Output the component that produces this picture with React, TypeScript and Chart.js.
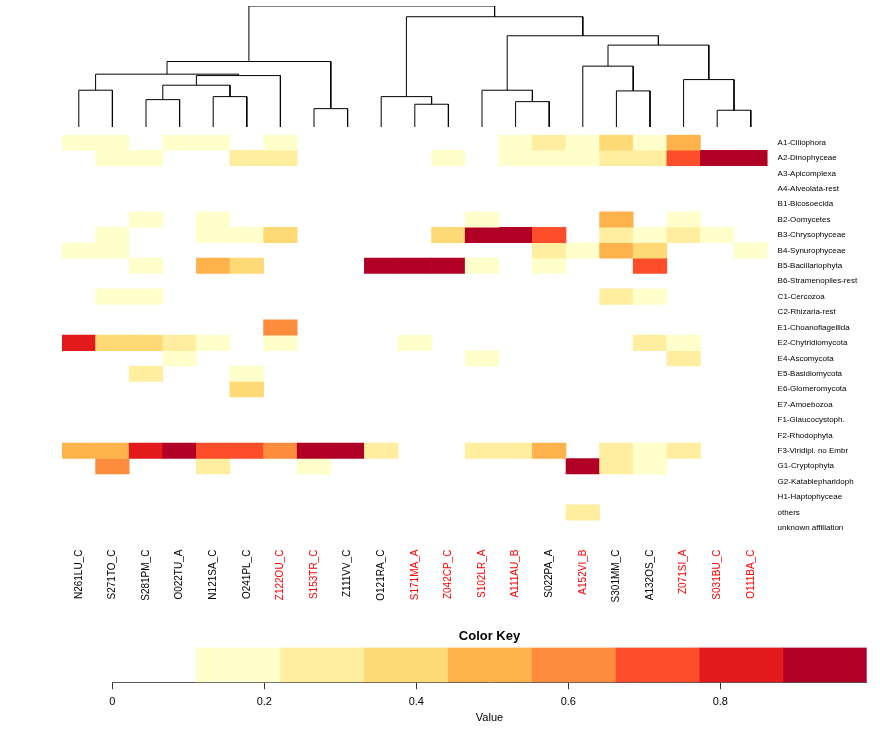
import React, { useEffect, useRef } from "react";
import { Chart, registerables } from "chart.js";

Chart.register(...registerables);
Chart.defaults.font.family = "'Liberation Sans', Arial, sans-serif";

// ---- Data ----
const columnLabels = [
  "N261LU_C", "S271TO_C", "S281PM_C", "O022TU_A", "N121SA_C", "O241PL_C", "Z122OU_C",
  "S153TR_C", "Z111VV_C", "O121RA_C", "S171MA_A", "Z042CP_C", "S102LR_A", "A111AU_B",
  "S022PA_A", "A152VI_B", "S301MM_C", "A132OS_C", "Z071SI_A", "S031BU_C", "O111BA_C",
];
const redColumns = [
  "Z122OU_C", "S153TR_C", "S171MA_A", "Z042CP_C", "S102LR_A", "A111AU_B",
  "A152VI_B", "Z071SI_A", "S031BU_C", "O111BA_C",
];
const rowLabels = [
  "A1-Ciliophora", "A2-Dinophyceae", "A3-Apicomplexa", "A4-Alveolata-rest", "B1-Bicosoecida",
  "B2-Oomycetes", "B3-Chrysophyceae", "B4-Synurophyceae", "B5-Bacillariophyta",
  "B6-Stramenopiles-rest", "C1-Cercozoa", "C2-Rhizaria-rest", "E1-Choanoflagellida",
  "E2-Chytridiomycota", "E4-Ascomycota", "E5-Basidiomycota", "E6-Glomeromycota",
  "E7-Amoebozoa", "F1-Glaucocystoph.", "F2-Rhodophyta", "F3-Viridipl. no Embr",
  "G1-Cryptophyta", "G2-Katablepharidoph", "H1-Haptophyceae", "others", "unknown affiliation",
];
// rows x columns (column order as in columnLabels)
const heatValues: number[][] = [
  /* A1 */ [0.17, 0.16, 0, 0.15, 0.18, 0, 0.19, 0, 0, 0, 0, 0, 0, 0.15, 0.27, 0.18, 0.4, 0.2, 0.5, 0, 0],
  /* A2 */ [0, 0.17, 0.15, 0, 0, 0.28, 0.26, 0, 0, 0, 0, 0.16, 0, 0.18, 0.2, 0.17, 0.27, 0.29, 0.7, 0.96, 0.99],
  /* A3 */ [0, 0, 0, 0, 0, 0, 0, 0, 0, 0, 0, 0, 0, 0, 0, 0, 0, 0, 0, 0, 0],
  /* A4 */ [0, 0, 0, 0, 0, 0, 0, 0, 0, 0, 0, 0, 0, 0, 0, 0, 0, 0, 0, 0, 0],
  /* B1 */ [0, 0, 0, 0, 0, 0, 0, 0, 0, 0, 0, 0, 0, 0, 0, 0, 0, 0, 0, 0, 0],
  /* B2 */ [0, 0, 0.15, 0, 0.14, 0, 0, 0, 0, 0, 0, 0, 0.18, 0, 0, 0, 0.5, 0, 0.16, 0, 0],
  /* B3 */ [0, 0.15, 0, 0, 0.17, 0.19, 0.38, 0, 0, 0, 0, 0.4, 0.93, 0.95, 0.7, 0, 0.28, 0.2, 0.27, 0.16, 0],
  /* B4 */ [0.14, 0.16, 0, 0, 0, 0, 0, 0, 0, 0, 0, 0, 0, 0, 0.29, 0.17, 0.49, 0.39, 0, 0, 0.15],
  /* B5 */ [0, 0, 0.18, 0, 0.5, 0.37, 0, 0, 0, 0.97, 0.95, 0.94, 0.16, 0, 0.19, 0, 0, 0.71, 0, 0, 0],
  /* B6 */ [0, 0, 0, 0, 0, 0, 0, 0, 0, 0, 0, 0, 0, 0, 0, 0, 0, 0, 0, 0, 0],
  /* C1 */ [0, 0.15, 0.17, 0, 0, 0, 0, 0, 0, 0, 0, 0, 0, 0, 0, 0, 0.27, 0.16, 0, 0, 0],
  /* C2 */ [0, 0, 0, 0, 0, 0, 0, 0, 0, 0, 0, 0, 0, 0, 0, 0, 0, 0, 0, 0, 0],
  /* E1 */ [0, 0, 0, 0, 0, 0, 0.6, 0, 0, 0, 0, 0, 0, 0, 0, 0, 0, 0, 0, 0, 0],
  /* E2 */ [0.85, 0.38, 0.4, 0.28, 0.16, 0, 0.18, 0, 0, 0, 0.15, 0, 0, 0, 0, 0, 0, 0.27, 0.19, 0, 0],
  /* E4 */ [0, 0, 0, 0.16, 0, 0, 0, 0, 0, 0, 0, 0, 0.17, 0, 0, 0, 0, 0, 0.28, 0, 0],
  /* E5 */ [0, 0, 0.27, 0, 0, 0.17, 0, 0, 0, 0, 0, 0, 0, 0, 0, 0, 0, 0, 0, 0, 0],
  /* E6 */ [0, 0, 0, 0, 0, 0.38, 0, 0, 0, 0, 0, 0, 0, 0, 0, 0, 0, 0, 0, 0, 0],
  /* E7 */ [0, 0, 0, 0, 0, 0, 0, 0, 0, 0, 0, 0, 0, 0, 0, 0, 0, 0, 0, 0, 0],
  /* F1 */ [0, 0, 0, 0, 0, 0, 0, 0, 0, 0, 0, 0, 0, 0, 0, 0, 0, 0, 0, 0, 0],
  /* F2 */ [0, 0, 0, 0, 0, 0, 0, 0, 0, 0, 0, 0, 0, 0, 0, 0, 0, 0, 0, 0, 0],
  /* F3 */ [0.5, 0.48, 0.82, 0.92, 0.72, 0.7, 0.6, 0.94, 0.96, 0.27, 0, 0, 0.28, 0.26, 0.5, 0, 0.29, 0.18, 0.27, 0, 0],
  /* G1 */ [0, 0.59, 0, 0, 0.26, 0, 0, 0.17, 0, 0, 0, 0, 0, 0, 0, 0.93, 0.28, 0.19, 0, 0, 0],
  /* G2 */ [0, 0, 0, 0, 0, 0, 0, 0, 0, 0, 0, 0, 0, 0, 0, 0, 0, 0, 0, 0, 0],
  /* H1 */ [0, 0, 0, 0, 0, 0, 0, 0, 0, 0, 0, 0, 0, 0, 0, 0, 0, 0, 0, 0, 0],
  /* others */ [0, 0, 0, 0, 0, 0, 0, 0, 0, 0, 0, 0, 0, 0, 0, 0.27, 0, 0, 0, 0, 0],
  /* unknown */ [0, 0, 0, 0, 0, 0, 0, 0, 0, 0, 0, 0, 0, 0, 0, 0, 0, 0, 0, 0, 0],
];

// Column dendrogram (R hclust style: negative = leaf -(col+1), positive = earlier merge, 1-based)
const mergeA = [-8, -20, -11, -14, -3, -5, -10, -17, -1, -13, 5, -19, 11, 9, -16, 14, 15, 10, 7, 16];
const mergeB = [-9, -21, -12, -15, -4, -6, 3, -18, -2, 4, 6, 2, -7, 13, 8, 1, 12, 17, 18, 19];
const mergeHeight = [18.3, 16.7, 22.7, 25.3, 27.3, 30.3, 30.3, 36, 36.7, 36.7, 41.7, 47.3, 51.3, 52.7, 60.7, 65.3, 81.7, 91, 110, 120.7];

// Colour key
const keyBreaks = [0, 0.1103, 0.2206, 0.3309, 0.4412, 0.5515, 0.6618, 0.7721, 0.8824, 0.9926];
const keyColors = ["#FFFFFF", "#FFFFCC", "#FFEDA0", "#FED976", "#FEB24C", "#FD8D3C", "#FC4E2A", "#E31A1C", "#B10026"];
const keyTicks = [0, 0.2, 0.4, 0.6, 0.8];

function colorFor(v: number): string {
  for (let i = keyColors.length - 1; i >= 0; i--) {
    if (v >= keyBreaks[i]) return keyColors[i];
  }
  return keyColors[0];
}

const W = 880;
const HEAT_LEFT = 62;
const HEAT_RIGHT_W = 112.4;

export default function App() {
  const dendroRef = useRef<HTMLCanvasElement>(null);
  const heatRef = useRef<HTMLCanvasElement>(null);
  const keyRef = useRef<HTMLCanvasElement>(null);

  useEffect(() => {
    const charts: Chart[] = [];

    // ---------- Dendrogram ----------
    const nodeX: number[] = [];
    const nodeH: number[] = [];
    const pos = (id: number) => (id < 0 ? { x: -id - 1, h: 0 } : { x: nodeX[id - 1], h: nodeH[id - 1] });
    const segs: { x: number; y: number }[][] = [];
    mergeA.forEach((a, k) => {
      const pa = pos(a);
      const pb = pos(mergeB[k]);
      const h = mergeHeight[k];
      nodeX.push((pa.x + pb.x) / 2);
      nodeH.push(h);
      segs.push([
        { x: pa.x, y: pa.h },
        { x: pa.x, y: h },
        { x: pb.x, y: h },
        { x: pb.x, y: pb.h },
      ]);
    });
    if (dendroRef.current) {
      charts.push(
        new Chart(dendroRef.current, {
          type: "scatter",
          data: {
            datasets: segs.map((s) => ({
              data: s,
              showLine: true,
              pointRadius: 0,
              borderColor: "#000000",
              borderWidth: 1,
              tension: 0,
            })),
          },
          options: {
            animation: false,
            responsive: false,
            devicePixelRatio: 1,
            layout: { padding: { left: HEAT_LEFT, right: HEAT_RIGHT_W, top: 6, bottom: 4 } },
            plugins: { legend: { display: false }, tooltip: { enabled: false } },
            scales: {
              x: { type: "linear", min: -0.5, max: 20.5, display: false },
              y: { type: "linear", min: 0, max: 120.7, display: false },
            },
          },
        })
      );
    }

    // ---------- Heatmap ----------
    if (heatRef.current) {
      charts.push(
        new Chart(heatRef.current, {
          type: "bar",
          data: {
            labels: columnLabels,
            datasets: rowLabels.map((row, r) => ({
              label: row,
              data: heatValues[r].map((v) => (v >= keyBreaks[1] ? [r, r + 1] : null)) as any,
              backgroundColor: heatValues[r].map((v) => colorFor(v)),
              borderWidth: 0,
              barPercentage: 1,
              categoryPercentage: 1,
              grouped: false,
            })),
          },
          options: {
            animation: false,
            responsive: false,
            devicePixelRatio: 1,
            layout: { padding: { left: HEAT_LEFT, top: 11, right: 0, bottom: 0 } },
            plugins: { legend: { display: false }, tooltip: { enabled: false } },
            scales: {
              x: {
                type: "category",
                offset: true,
                grid: { display: false, drawTicks: false },
                border: { display: false },
                ticks: {
                  autoSkip: false,
                  maxRotation: 90,
                  minRotation: 90,
                  padding: 14,
                  font: { size: 10 },
                  color: (ctx: any) => (redColumns.includes(columnLabels[ctx.index]) ? "#FF0000" : "#000000"),
                },
                afterFit: (s: any) => {
                  s.height = 79.4;
                },
              },
              y: {
                type: "linear",
                position: "right",
                min: 0,
                max: rowLabels.length,
                reverse: true,
                grid: { display: false, drawTicks: false },
                border: { display: false },
                afterBuildTicks: (s: any) => {
                  s.ticks = rowLabels.map((_, i) => ({ value: i + 0.5 }));
                },
                ticks: {
                  autoSkip: false,
                  padding: 10,
                  font: { size: 8 },
                  color: "#000000",
                  callback: (_v: any, i: number) => rowLabels[i],
                },
                afterFit: (s: any) => {
                  s.width = HEAT_RIGHT_W;
                },
              },
            },
          },
        })
      );
    }

    // ---------- Colour key ----------
    if (keyRef.current) {
      charts.push(
        new Chart(keyRef.current, {
          type: "bar",
          data: {
            labels: ["key"],
            datasets: keyColors.slice(1).map((c, i) => ({
              data: [[keyBreaks[i + 1], keyBreaks[i + 2]]] as any,
              backgroundColor: c,
              borderWidth: 0,
              barPercentage: 1,
              categoryPercentage: 1,
              grouped: false,
            })),
          },
          options: {
            indexAxis: "y",
            animation: false,
            responsive: false,
            devicePixelRatio: 1,
            layout: { padding: { left: 112.3, right: 13.3, top: 0, bottom: 0 } },
            plugins: {
              legend: { display: false },
              tooltip: { enabled: false },
              title: {
                display: true,
                text: "Color Key",
                color: "#000000",
                font: { size: 13, weight: "bold" },
                padding: { top: 9, bottom: 3 },
              },
            },
            scales: {
              x: {
                type: "linear",
                min: keyBreaks[0],
                max: keyBreaks[keyBreaks.length - 1],
                grid: { display: true, drawOnChartArea: false, drawTicks: true, tickLength: 7, color: "#333333" },
                border: { display: true, color: "#555555", width: 1 },
                afterBuildTicks: (s: any) => {
                  s.ticks = keyTicks.map((v) => ({ value: v }));
                },
                ticks: {
                  padding: 6,
                  font: { size: 11 },
                  color: "#000000",
                  callback: (v: any) => String(v),
                },
                title: {
                  display: true,
                  text: "Value",
                  color: "#000000",
                  font: { size: 11 },
                  padding: { top: 4, bottom: 21 },
                },
                afterFit: (s: any) => {
                  s.height = 63.7;
                },
              },
              y: { type: "category", display: false },
            },
          },
        })
      );
    }

    return () => {
      charts.forEach((c) => c.destroy());
    };
  }, []);

  return (
    <div style={{ position: "absolute", left: 0, top: 0, width: W, height: 746, background: "#ffffff" }}>
      <canvas ref={dendroRef} width={W} height={131} style={{ position: "absolute", left: 0, top: 0, width: W, height: 131 }} />
      <canvas ref={heatRef} width={W} height={495} style={{ position: "absolute", left: 0, top: 120, width: W, height: 495 }} />
      <canvas ref={keyRef} width={W} height={126} style={{ position: "absolute", left: 0, top: 620, width: W, height: 126 }} />
    </div>
  );
}
